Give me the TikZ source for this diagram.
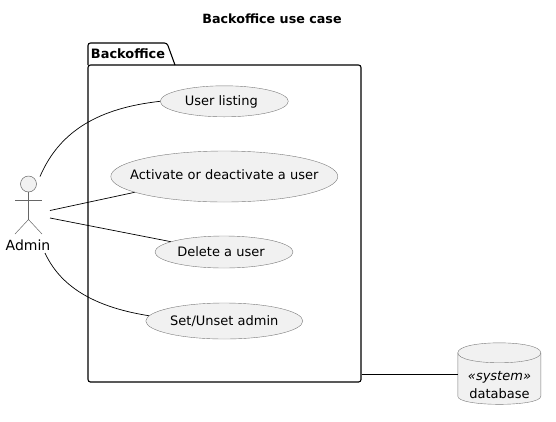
\documentclass[tikz,border=0pt]{standalone}
\usepackage{fontspec}
\setmainfont{DejaVu Sans}
\usetikzlibrary{positioning, shapes.geometric}

\definecolor{usecasefill}{HTML}{F1F1F1}
\definecolor{usecaseline}{HTML}{7A7A7A}

\tikzset{
    usecase/.style={ellipse, draw=usecaseline, fill=usecasefill, inner xsep=-20pt, inner ysep=0pt,
        text height=9.5pt, text depth=0.5pt, font=\fontsize{13}{15}\selectfont},
    package/.style={draw=black, line width=1.1pt, rounded corners=2.5pt},
    link/.style={draw=black, line width=0.7pt},
    figure/.style={draw=black!60, line width=0.5pt}
}

\begin{document}
\begin{tikzpicture}[x=1pt, y=-1pt]
    \useasboundingbox (0,0) rectangle (556,421);

    \node (title) at (272,19) {\fontsize{12.7}{15}\selectfont\bfseries Backoffice use case};

    \path[package] (88,65) -- (88,43) -- (167,43) -- (175,65);
    \node (backoffice) [package, minimum width=273pt, minimum height=317pt, inner sep=0pt] at (224.5,223.5) {};
    \node (tab) at (128,54) {\fontsize{12.9}{15}\selectfont\bfseries Backoffice};

    \begin{scope}[every node/.style={usecase}]
        \node (listing) [minimum width=128pt, minimum height=31pt] at (224.3,101.3) {\kern-6pt User listing};
        \node (activate) [minimum width=227pt, minimum height=51pt, text depth=3.9pt] at (224.3,176.5) {Activate or deactivate a user};
        \node (delete) [minimum width=138pt, minimum height=32pt] at (224,252) {\kern-6pt Delete a user};
        \node (setadmin) [minimum width=157pt, minimum height=36pt] at (224.3,321) {Set/Unset admin};
    \end{scope}

    % actor
    \node (head) [circle, figure, fill=usecasefill, minimum size=16pt, inner sep=0pt] at (28.5,184) {};
    \node (admin) at (28,245.5) {\fontsize{14}{16}\selectfont Admin};
    \coordinate (hip) at (28.5,219.5);
    \coordinate (armL) at (15,200);
    \coordinate (armR) at (42,200);
    \coordinate (footL) at (15,234);
    \coordinate (footR) at (42,234);
    \draw[figure] (head.south) -- (hip);
    \draw[figure] (armL) -- (armR);
    \draw[figure] (footL) -- (hip) -- (footR);

    % database
    \node (database) [minimum width=83pt, minimum height=62pt, inner sep=0pt] at (499.5,374) {};
    \draw[draw=usecaseline, fill=usecasefill] (database.north west) ++(0,10)
        .. controls +(0,-13.3) and +(0,-13.3) .. ++(83,0)
        -- ++(0,43.5)
        .. controls +(0,10.7) and +(0,10.7) .. ++(-83,0) -- cycle;
    \draw[draw=usecaseline] (database.north west) ++(0,10)
        .. controls +(0,13.3) and +(0,13.3) .. ++(83,0);
    \node (stereo) at (499.5,377) {\fontsize{13}{15}\selectfont\itshape «system»};
    \node (dblabel) at (499.5,393.5) {\fontsize{13}{15}\selectfont database};

    % links
    \coordinate (adminTop) at (40,176.5);
    \coordinate (adminA) at (50,210.5);
    \coordinate (adminB) at (50,218);
    \coordinate (adminC) at (45,253);
    \path[link] (adminTop) .. controls (60,130) and (100,108) .. (listing.west);
    \path[link] (adminA) -- (activate.190.7);
    \path[link] (adminB) -- (delete.169.5);
    \path[link] (adminC) .. controls (62,290) and (100,308) .. (setadmin.176.2);
    \path[link] (backoffice.east |- database.west) -- (database.west);
\end{tikzpicture}
\end{document}
